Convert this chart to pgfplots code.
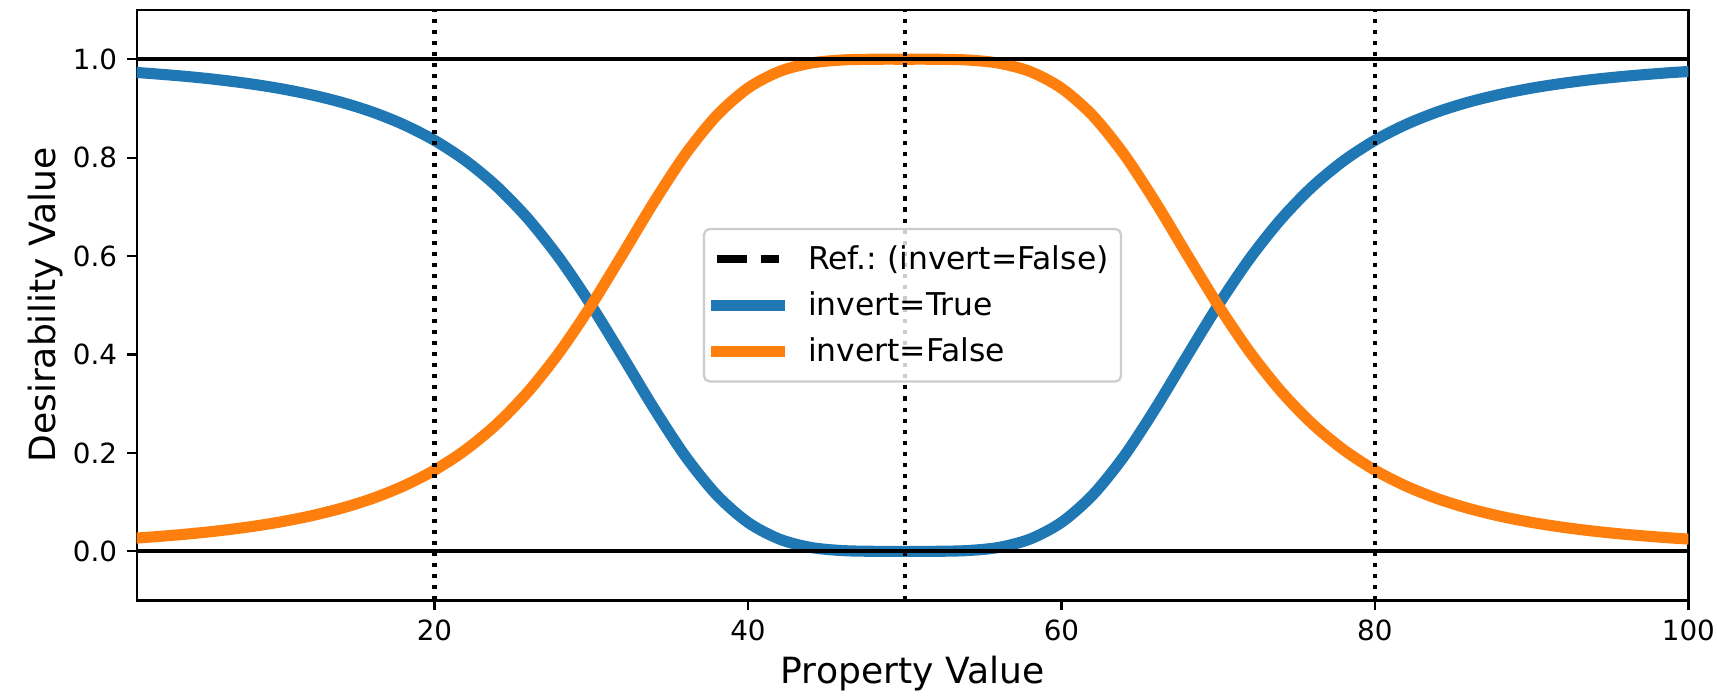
\documentclass[border=0pt]{standalone}
\usepackage{fontspec}
\setmainfont{DejaVu Sans}
\usepackage{pgfplots}
\pgfplotsset{compat=1.18}
\usepackage{pgfplotstable}
\frenchspacing

\definecolor{tabblue}{HTML}{1F77B4}
\definecolor{taborange}{HTML}{FF7F0E}
\definecolor{legendedge}{HTML}{CCCCCC}

% desirability values, inverted and not inverted
\pgfplotstableread{
x    inv     noinv
1    0.9730  0.0270
2    0.9707  0.0293
4    0.9655  0.0345
6    0.9591  0.0409
8    0.9511  0.0489
10   0.9412  0.0588
12   0.9287  0.0713
14   0.9130  0.0870
16   0.8931  0.1069
18   0.8676  0.1324
20   0.8351  0.1649
22   0.7935  0.2065
24   0.7407  0.2593
26   0.6746  0.3254
28   0.5942  0.4058
30   0.5000  0.5000
32   0.3962  0.6038
34   0.2906  0.7094
36   0.1936  0.8064
38   0.1147  0.8853
40   0.0588  0.9412
42   0.0250  0.9750
44   0.0080  0.9920
46   0.0016  0.9984
48   0.0001  0.9999
50   0.0000  1.0000
52   0.0001  0.9999
54   0.0016  0.9984
56   0.0080  0.9920
58   0.0250  0.9750
60   0.0588  0.9412
62   0.1147  0.8853
64   0.1936  0.8064
66   0.2906  0.7094
68   0.3962  0.6038
70   0.5000  0.5000
72   0.5942  0.4058
74   0.6746  0.3254
76   0.7407  0.2593
78   0.7935  0.2065
80   0.8351  0.1649
82   0.8676  0.1324
84   0.8931  0.1069
86   0.9130  0.0870
88   0.9287  0.0713
90   0.9412  0.0588
92   0.9511  0.0489
94   0.9591  0.0409
96   0.9655  0.0345
98   0.9707  0.0293
99   0.9730  0.0270
100  0.9750  0.0250
}\desirability

\begin{document}
\begin{tikzpicture}
  \begin{axis}[
    scale only axis,
    width=558.6pt, height=212.6pt,
    xmin=1, xmax=100,
    ymin=-0.1, ymax=1.1,
    xtick={20,40,60,80,100},
    ytick={0,0.2,0.4,0.6,0.8,1},
    /pgf/number format/assume math mode=true,
    yticklabel style={/pgf/number format/.cd, fixed, fixed zerofill, precision=1},
    tick label style={font=\fontsize{10}{12}\selectfont},
    xtick pos=left, ytick pos=left,
    tick align=outside,
    major tick length=3.5pt,
    every tick/.style={black, line width=0.8pt},
    axis line style={line width=0.8pt},
    xlabel={Property Value},
    ylabel={Desirability Value},
    label style={font=\fontsize{13}{15}\selectfont},
    xlabel style={at={(axis description cs:0.5,-0.1397)}, anchor=base},
    ylabel style={at={(axis description cs:-0.0585,0.5)}, anchor=center},
    legend cell align=left,
    legend image code/.code={\draw[#1] (0pt,0pt) -- (22.5pt,0pt);},
    legend style={
      at={(0.5,0.5)}, anchor=center,
      font=\fontsize{11.3}{13}\selectfont,
      draw=legendedge, line width=0.8pt, rounded corners=2pt,
      fill=white, fill opacity=0.8, text opacity=1,
      inner xsep=2.5pt, inner ysep=3.8pt,
      row sep=2.5pt,
      /tikz/every odd column/.append style={column sep=6.5pt},
    },
  ]
    \addlegendimage{black, line width=3pt, dash pattern=on 11.1pt off 4.8pt}
    \addlegendentry{Ref.: (invert=False)}

    \addplot[tabblue, line width=4pt, smooth, line cap=rect] table[x=x, y=inv] {\desirability};
    \addlegendentry{invert=True}
    \addplot[taborange, line width=4pt, smooth, line cap=rect] table[x=x, y=noinv] {\desirability};
    \addlegendentry{invert=False}

    % reference lines
    \addplot[forget plot, black, line width=1.5pt] coordinates {(1,0) (100,0)};
    \addplot[forget plot, black, line width=1.5pt] coordinates {(1,1) (100,1)};
    \addplot[forget plot, black, line width=1.5pt, dash pattern=on 1.5pt off 2.5pt] coordinates {(20,-0.1) (20,1.1)};
    \addplot[forget plot, black, line width=1.5pt, dash pattern=on 1.5pt off 2.5pt] coordinates {(50,-0.1) (50,1.1)};
    \addplot[forget plot, black, line width=1.5pt, dash pattern=on 1.5pt off 2.5pt] coordinates {(80,-0.1) (80,1.1)};
  \end{axis}
  \pgfresetboundingbox
  \useasboundingbox ([shift={(-49.2pt,-34.7pt)}]current axis.south west) rectangle ([shift={(10.3pt,3.6pt)}]current axis.north east);
\end{tikzpicture}
\end{document}
